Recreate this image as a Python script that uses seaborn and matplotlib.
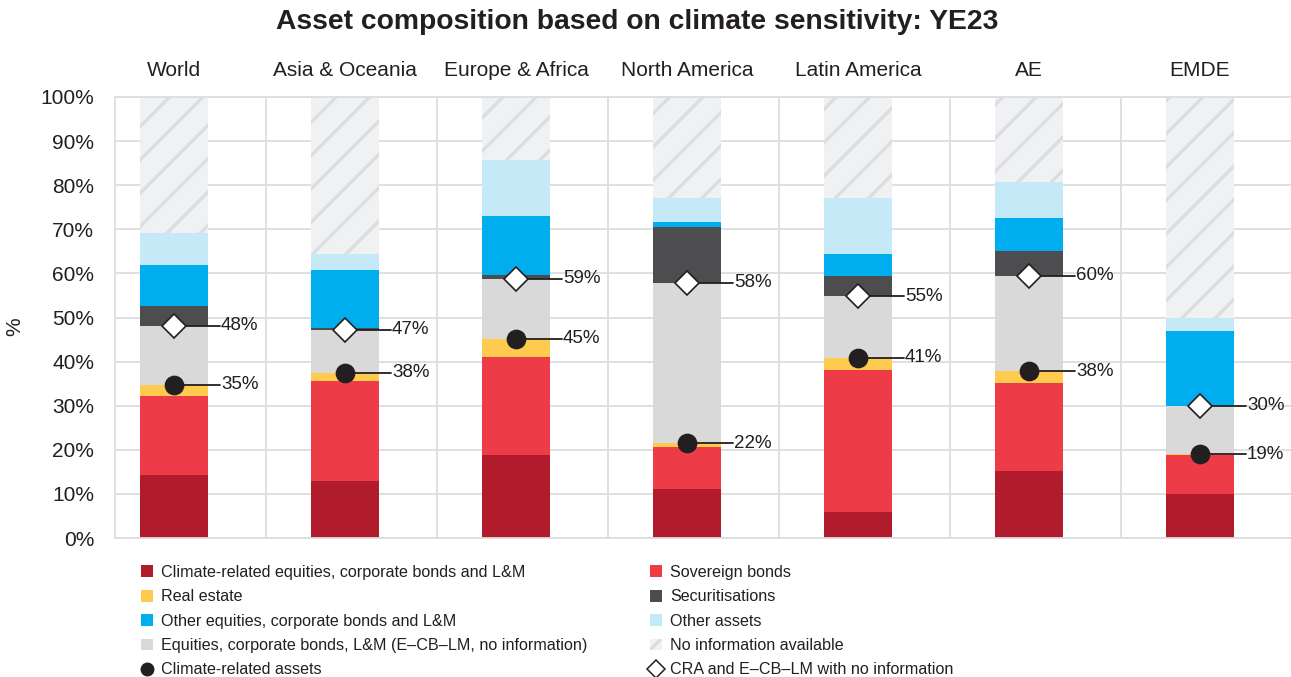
import numpy as np
import matplotlib
matplotlib.use("Agg")
import matplotlib.pyplot as plt
from matplotlib.patches import Patch
from matplotlib.lines import Line2D
import seaborn as sns

# Data (share of total assets, %)
regions = ["World", "Asia & Oceania", "Europe & Africa", "North America",
           "Latin America", "AE", "EMDE"]
climate_ecblm = [14.2, 13.0, 18.8, 11.0, 5.8, 15.1, 10.0]
sovereign = [18.1, 22.7, 22.3, 9.6, 32.2, 20.0, 8.9]
real_estate = [2.5, 1.8, 4.1, 0.9, 2.9, 2.7, 0.1]
ecblm_noinfo = [13.3, 9.7, 13.6, 36.4, 13.9, 21.7, 11.0]
securitisations = [4.6, 0.4, 0.9, 12.7, 4.7, 5.6, 0.0]
other_ecblm = [9.2, 13.2, 13.3, 1.0, 5.0, 7.4, 16.9]
other_assets = [7.2, 3.6, 12.8, 5.5, 12.6, 8.3, 2.9]
total = [100] * 7

cra_labels = [35, 38, 45, 22, 41, 38, 19]
cra_noinfo_labels = [48, 47, 59, 58, 55, 60, 30]

sns.set_style("white")
plt.rcParams["font.family"] = ["Liberation Sans", "DejaVu Sans"]
plt.rcParams["hatch.linewidth"] = 2.4

txt = "#231F20"
grid_col = "#DCDDDE"
hatch_bg = "#F0F1F3"
hatch_fg = "#DCDDDF"

layers = [
    ("Climate-related equities, corporate bonds and L&M", climate_ecblm, "#B01C2B"),
    ("Sovereign bonds", sovereign, "#EE3B48"),
    ("Real estate", real_estate, "#FFCB4F"),
    ("Equities, corporate bonds, L&M (E\u2013CB\u2013LM, no information)", ecblm_noinfo, "#D9D9D9"),
    ("Securitisations", securitisations, "#4D4D4F"),
    ("Other equities, corporate bonds and L&M", other_ecblm, "#00AEEF"),
    ("Other assets", other_assets, "#C5E9F7"),
]
stack = np.cumsum([l[1] for l in layers], axis=0)
cra_pos = stack[2]
noinfo_pos = stack[3]

fig = plt.figure(figsize=(12.91, 6.77), dpi=100)
ax = fig.add_axes([115 / 1291, 1 - 538 / 677, 1 - 115 / 1291, (538 - 97) / 677])

# hatched "no information" background bar
sns.barplot(x=regions, y=total, color=hatch_bg, width=0.4, saturation=1,
            linewidth=0, ax=ax)
for p in ax.patches:
    p.set_hatch("/")
    p.set_edgecolor(hatch_fg)
    p.set_linewidth(0)

# stacked layers, drawn as cumulative totals from the top down
for k in range(len(layers) - 1, -1, -1):
    sns.barplot(x=regions, y=stack[k], color=layers[k][2], width=0.4,
                saturation=1, linewidth=0, ax=ax)

# markers with leader lines and labels
for i in range(len(regions)):
    for ypos, lab, mk, fc, ms in [(cra_pos[i], cra_labels[i], "o", txt, 13),
                                  (noinfo_pos[i], cra_noinfo_labels[i], "D", "white", 12)]:
        ax.plot([i, i + 0.27], [ypos, ypos], color=txt, lw=1.3, zorder=4)
        ax.plot(i, ypos, marker=mk, ms=ms, mfc=fc, mec=txt, mew=1.2, zorder=5)
        ax.text(i + 0.275, ypos, f"{lab}%", ha="left", va="center",
                fontsize=13.5, color=txt, zorder=5)

# axes styling
ax.set_xlim(-0.345, 6.532)
ax.set_ylim(0, 100)
ax.set_yticks(range(0, 101, 10))
ax.set_yticklabels([f"{v}%" for v in range(0, 101, 10)], fontsize=15, color=txt)
ax.xaxis.tick_top()
ax.set_xticks(range(len(regions)))
ax.set_xticklabels(regions, fontsize=15, color=txt)
ax.tick_params(axis="x", length=0, pad=12)
ax.tick_params(axis="y", length=0, pad=15)
ax.set_xlabel("")
ax.set_ylabel("")
ax.set_axisbelow(True)
ax.yaxis.grid(True, color=grid_col, lw=1.3)
for i in range(len(regions) - 1):
    ax.axvline(i + 0.54, color=grid_col, lw=1.3, zorder=0.5)
for side in ["top", "left", "bottom"]:
    ax.spines[side].set_color(grid_col)
    ax.spines[side].set_linewidth(1.3)
ax.spines["right"].set_visible(False)

fig.text(15 / 1291, 1 - 327 / 677, "%", rotation=90, ha="center", va="center",
         fontsize=15, color=txt)
fig.text(637 / 1291, 1 - 22 / 677,
         "Asset composition based on climate sensitivity: YE23",
         ha="center", va="center", fontsize=20.3, fontweight="bold", color=txt)

# legend
def sq(c):
    return Patch(facecolor=c, edgecolor="none")

handles = [
    sq(layers[0][2]), sq(layers[2][2]), sq(layers[5][2]), sq(layers[3][2]),
    Line2D([], [], ls="none", marker="o", ms=9, mfc=txt, mec=txt),
    sq(layers[1][2]), sq(layers[4][2]), sq(layers[6][2]),
    Patch(facecolor=hatch_bg, edgecolor=hatch_fg, hatch="/", linewidth=0),
    Line2D([], [], ls="none", marker="D", ms=9, mfc="white", mec=txt, mew=1.1),
]
labels = [
    layers[0][0], layers[2][0], layers[5][0], layers[3][0], "Climate-related assets",
    layers[1][0], layers[4][0], layers[6][0], "No information available",
    "CRA and E\u2013CB\u2013LM with no information",
]
fig.legend(handles, labels, ncol=2, loc="upper left",
           bbox_to_anchor=(141 / 1291, 1 - 565 / 677), frameon=False,
           fontsize=11.6, handlelength=0.75, handleheight=0.75,
           handletextpad=0.5, columnspacing=3.9, labelspacing=0.58,
           labelcolor=txt, borderpad=0, borderaxespad=0)

fig.savefig("out.png", dpi=100)
